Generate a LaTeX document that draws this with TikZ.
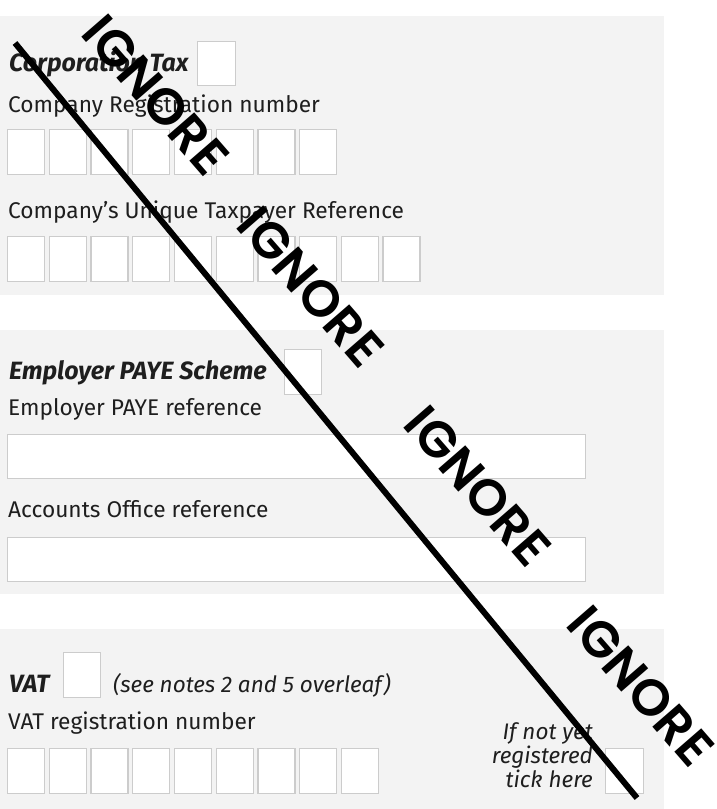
\documentclass[tikz,border=0pt]{standalone}
\usepackage{fontspec}
\setmainfont{Fira Sans}
\newfontfamily\ignfont{Poppins SemiBold}
\definecolor{panelgray}{HTML}{F3F3F3}
\definecolor{cellborder}{HTML}{CCCCCC}
\definecolor{ink}{HTML}{1E1E1E}
\begin{document}
\begin{tikzpicture}[x=1pt,y=-1pt,
  panel/.style={fill=panelgray},
  lbl/.style={anchor=base west,inner sep=0pt,text=ink,font=\fontsize{22.7}{27}\selectfont},
  head/.style={anchor=base west,inner sep=0pt,text=ink,font=\fontsize{25}{29}\selectfont\bfseries\itshape},
  note/.style={inner sep=0pt,text=ink,font=\fontsize{22.5}{27}\selectfont\itshape},
  cell/.style={draw=cellborder,fill=white,line width=1.3pt,anchor=north west,inner sep=0pt,minimum width=37pt,minimum height=45pt},
  wide/.style={draw=cellborder,fill=white,line width=1.3pt,anchor=north west,inner sep=0pt,minimum width=578pt,minimum height=44pt},
  ign/.style={text=black,inner sep=0pt,rotate=-49,font=\ignfont\fontsize{51}{53}\selectfont},
  strike/.style={line width=6pt,black}]
\useasboundingbox (0,0) rectangle (716,809);
% panels
\fill[panel] (0,16) rectangle (664,295);
\fill[panel] (0,330) rectangle (664,594);
\fill[panel] (0,629) rectangle (664,809);
% Corporation Tax
\node[head] (ct) at (9,71) {Corporation Tax};
\node[cell,minimum width=38pt,minimum height=44pt] (ctbox) at (197,41) {};
\node[lbl] (crnlbl) at (8,112) {Company Registration number};
\foreach \i in {0,...,7} \node[cell] (crn\i) at ({7+41.7*\i},129) {};
\node[lbl] (utrlbl) at (8,218) {Company's Unique Taxpayer Reference};
\foreach \i in {0,...,9} \node[cell] (utr\i) at ({7+41.7*\i},236) {};
% PAYE
\node[head] (paye) at (9,379) {Employer PAYE Scheme};
\node[cell,minimum width=37pt,minimum height=45pt] (payebox) at (284,349) {};
\node[lbl] (payelbl) at (8,415) {Employer PAYE reference};
\node[wide] (payeref) at (7,434) {};
\node[lbl] (aolbl) at (8,517) {Accounts Office reference};
\node[wide] (aoref) at (7,537) {};
% VAT
\node[head] (vat) at (9,692) {VAT};
\node[cell,minimum width=37pt,minimum height=45pt] (vatbox) at (63,652) {};
\node[note,anchor=base west] (vatnote) at (113,692) {(see notes 2 and 5 overleaf)};
\node[lbl] (vatlbl) at (8,729) {VAT registration number};
\foreach \i in {0,...,8} \node[cell] (vrn\i) at ({7+41.7*\i},748) {};
\node[note,anchor=base east] (nr1) at (593,739) {If not yet};
\node[note,anchor=base east] (nr2) at (593,763) {registered};
\node[note,anchor=base east] (nr3) at (593,787) {tick here};
\node[cell,minimum width=38pt,minimum height=45pt] (nrbox) at (605,748) {};
% watermark
\coordinate (ls) at (15,43);
\coordinate (le) at (637,798);
\draw[strike] (ls) -- (le);
\node[ign] (ig1) at (156,95) {IGNORE};
\node[ign] (ig2) at (311,287) {IGNORE};
\node[ign] (ig3) at (478,486) {IGNORE};
\node[ign] (ig4) at (641,686) {IGNORE};
\end{tikzpicture}
\end{document}
